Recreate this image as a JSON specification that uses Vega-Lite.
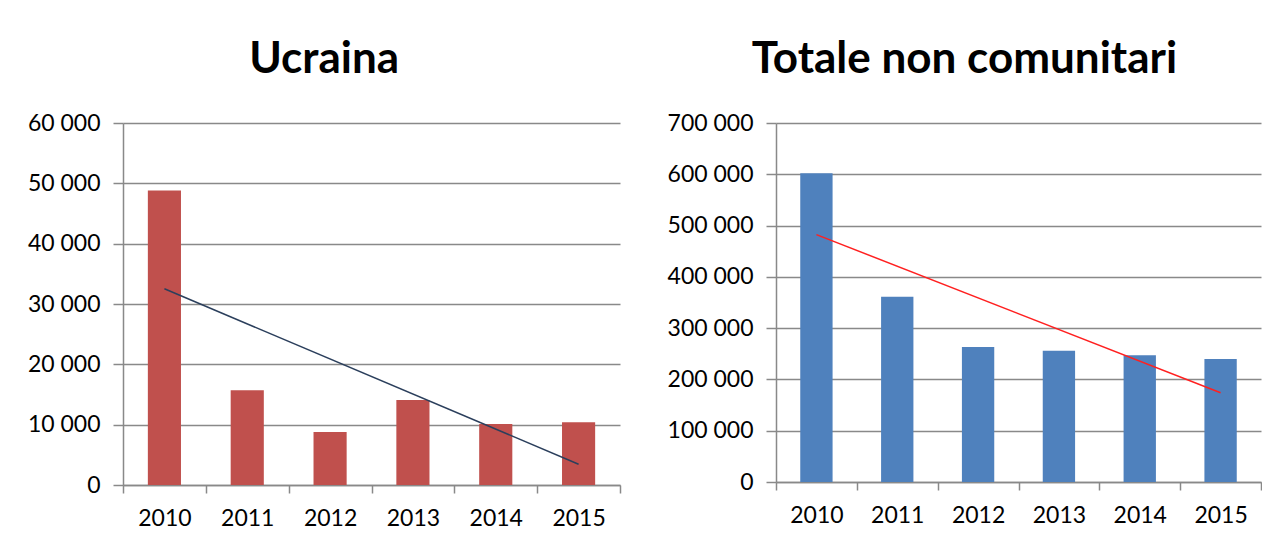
{
  "$schema": "https://vega.github.io/schema/vega-lite/v6.json",
  "padding": {"left": 27, "top": 38, "right": 0, "bottom": 0},
  "spacing": 46,
  "background": "white",
  "config": {
    "locale": {"number": {"decimal": ",", "thousands": " ", "grouping": [3], "currency": ["", " €"]}},
    "view": {"stroke": null},
    "font": "Lato",
    "title": {"font": "Lato", "fontSize": 44, "fontWeight": "bold", "color": "#000000", "anchor": "middle", "frame": "bounds", "offset": 30},
    "axis": {
      "labelFont": "Lato", "labelFontSize": 23, "labelColor": "#000000",
      "domainColor": "#898989", "domainWidth": 1.5,
      "tickColor": "#898989", "tickWidth": 1.5,
      "gridColor": "#898989", "gridWidth": 1.5,
      "title": null
    },
    "axisX": {"tickBand": "extent", "tickSize": 8, "labelPadding": 14, "labelAngle": 0, "grid": false},
    "axisY": {"tickSize": 10, "labelPadding": 13, "grid": true, "format": ",d"}
  },
  "hconcat": [
    {
      "width": 497, "height": 362,
      "title": "Ucraina",
      "data": {"values": [
        {"year": 2010, "value": 48800},
        {"year": 2011, "value": 15700},
        {"year": 2012, "value": 8800},
        {"year": 2013, "value": 14100},
        {"year": 2014, "value": 10100},
        {"year": 2015, "value": 10400}
      ]},
      "layer": [
        {
          "mark": {"type": "bar", "width": {"band": 0.4}, "color": "#C0504D"},
          "encoding": {
            "x": {"field": "year", "type": "ordinal", "scale": {"paddingInner": 0, "paddingOuter": 0}},
            "y": {"field": "value", "type": "quantitative", "scale": {"domain": [0, 60000]}, "axis": {"values": [0, 10000, 20000, 30000, 40000, 50000, 60000]}}
          }
        },
        {
          "transform": [{"regression": "value", "on": "year"}],
          "mark": {"type": "line", "color": "#2B3F5C", "strokeWidth": 1.5},
          "encoding": {
            "x": {"field": "year", "type": "ordinal"},
            "y": {"field": "value", "type": "quantitative"}
          }
        }
      ]
    },
    {
      "width": 485, "height": 359,
      "title": "Totale non comunitari",
      "data": {"values": [
        {"year": 2010, "value": 602000},
        {"year": 2011, "value": 361000},
        {"year": 2012, "value": 263000},
        {"year": 2013, "value": 256000},
        {"year": 2014, "value": 247000},
        {"year": 2015, "value": 240000}
      ]},
      "layer": [
        {
          "mark": {"type": "bar", "width": {"band": 0.4}, "color": "#4F81BD"},
          "encoding": {
            "x": {"field": "year", "type": "ordinal", "scale": {"paddingInner": 0, "paddingOuter": 0}},
            "y": {"field": "value", "type": "quantitative", "scale": {"domain": [0, 700000]}, "axis": {"values": [0, 100000, 200000, 300000, 400000, 500000, 600000, 700000]}}
          }
        },
        {
          "transform": [{"regression": "value", "on": "year"}],
          "mark": {"type": "line", "color": "#FF2020", "strokeWidth": 1.5},
          "encoding": {
            "x": {"field": "year", "type": "ordinal"},
            "y": {"field": "value", "type": "quantitative"}
          }
        }
      ]
    }
  ]
}
